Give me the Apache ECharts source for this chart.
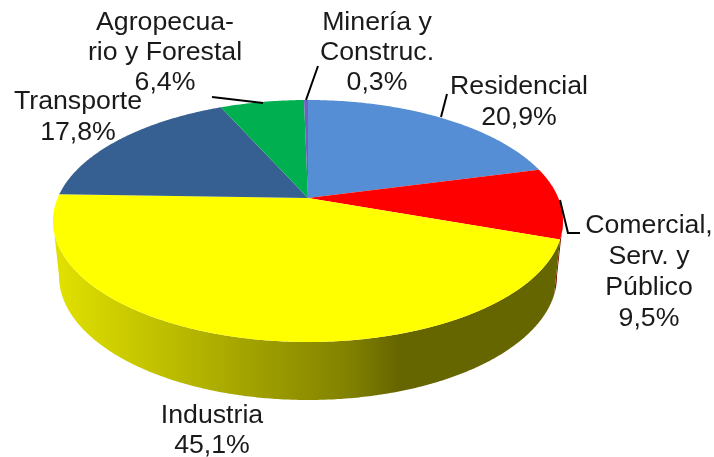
<!DOCTYPE html>
<html>
<head>
<meta charset="utf-8">
<style>
  html, body { margin: 0; padding: 0; background: #fff; }
  #chart { width: 714px; height: 457px; }
</style>
<script src="https://cdn.jsdelivr.net/npm/echarts@6/dist/echarts.min.js"></script>
</head>
<body>
<div id="chart"></div>
<script>
// data, clockwise from 12 o'clock
const categories = ['Residencial', 'Comercial,\nServ. y\nPúblico', 'Industria', 'Transporte', 'Agropecua-\nrio y Forestal', 'Minería y\nConstruc.']
const values = [20.9, 9.5, 45.1, 17.8, 6.4, 0.3]

// colours
const topColors = ['#558ed5', '#ff0000', '#ffff00', '#376092', '#00b050', '#7060c0']
const wallColors = ['#2c4a70', '#7a1000', null, '#1c3049', '#005828', '#382060']
// the yellow wall is shaded from left to right
const industriaWall = [
  { offset: 0, color: '#e2e200' },
  { offset: 0.16, color: '#c8c800' },
  { offset: 0.4, color: '#a0a000' },
  { offset: 0.58, color: '#828200' },
  { offset: 0.68, color: '#666600' },
  { offset: 1, color: '#666600' }
]

// layout of the tilted disc, the hub sits above the middle of the ellipse
const topDisc = { cx: 308, cy: 221, rx: 255, ry: 121 }
const bottomDisc = { cx: 308, cy: 276, rx: 249, ry: 124 }
const perspective = 0.19

// label centres and leader lines, same order as categories
const labelLayout = [
  { x: 519, y: 102, lineHeight: 31 },
  { x: 649, y: 272, lineHeight: 31 },
  { x: 212, y: 431, lineHeight: 30 },
  { x: 78, y: 117, lineHeight: 31 },
  { x: 165, y: 53, lineHeight: 30 },
  { x: 377, y: 53, lineHeight: 30 }
]
const leaderLines = [
  [[447, 94], [441, 117]],
  [[560, 200], [568, 233], [580, 233]],
  null,
  null,
  [[212, 97], [263, 103]],
  [[318, 66], [306, 100]]
]

const total = values.reduce((a, b) => a + b, 0)
const pointAt = (disc, deg) => {
  // angle from the top, clockwise, pushed through the perspective of the disc
  const a = (deg * Math.PI) / 180
  const d = 1 + perspective * Math.cos(a)
  const u = (Math.sin(a) * Math.sqrt(1 - perspective * perspective)) / d
  const v = (-Math.cos(a) - perspective) / d
  return [disc.cx + u * disc.rx, disc.cy + v * disc.ry]
}
const arc = (disc, from, to) => {
  const steps = Math.max(2, Math.ceil(Math.abs(to - from) * 2))
  const pts = []
  for (let i = 0; i <= steps; i++) pts.push(pointAt(disc, from + ((to - from) * i) / steps))
  return pts
}

// start and end angle of every slice
let acc = 0
const ranges = values.map((v) => {
  const r = [acc, acc + (v / total) * 360]
  acc = r[1]
  return r
})

// only this part of the rim faces the viewer
const rightEdge = (Math.acos(-perspective) * 180) / Math.PI
const leftEdge = 360 - rightEdge

const renderWall = (params) => {
  const i = params.dataIndex
  const from = Math.max(ranges[i][0], rightEdge)
  const to = Math.min(ranges[i][1], leftEdge)
  if (to <= from) return null
  const points = arc(topDisc, from, to).concat(arc(bottomDisc, from, to).reverse())
  const fill = wallColors[i] || new echarts.graphic.LinearGradient(0, 0, 1, 0, industriaWall)
  return { type: 'polygon', shape: { points }, style: { fill } }
}

const renderTop = (params) => {
  const i = params.dataIndex
  const hub = [topDisc.cx, topDisc.cy - perspective * topDisc.ry]
  const points = [hub].concat(arc(topDisc, ranges[i][0], ranges[i][1]))
  return { type: 'polygon', shape: { points }, style: { fill: topColors[i] } }
}

const renderLabel = (params) => {
  const i = params.dataIndex
  const pos = labelLayout[i]
  const children = [{
    type: 'text',
    style: {
      text: categories[i] + '\n' + values[i].toFixed(1).replace('.', ',') + '%',
      x: pos.x,
      y: pos.y,
      align: 'center',
      verticalAlign: 'middle',
      font: '26.7px "Liberation Sans", Arial, sans-serif',
      lineHeight: pos.lineHeight,
      fill: '#1a1a1a'
    }
  }]
  if (leaderLines[i]) {
    children.push({
      type: 'polyline',
      shape: { points: leaderLines[i] },
      style: { stroke: '#000', lineWidth: 2, fill: null }
    })
  }
  return { type: 'group', children }
}

const chart = echarts.init(document.getElementById('chart'))
const seriesData = values.map((v, i) => [i, v])
chart.setOption({
  backgroundColor: '#fff',
  animation: false,
  series: [
    { type: 'custom', coordinateSystem: 'none', silent: true, z: 1, data: seriesData, renderItem: renderWall },
    { type: 'custom', coordinateSystem: 'none', silent: true, z: 2, data: seriesData, renderItem: renderTop },
    { type: 'custom', coordinateSystem: 'none', silent: true, z: 3, data: seriesData, renderItem: renderLabel }
  ]
})
</script>
</body>
</html>
